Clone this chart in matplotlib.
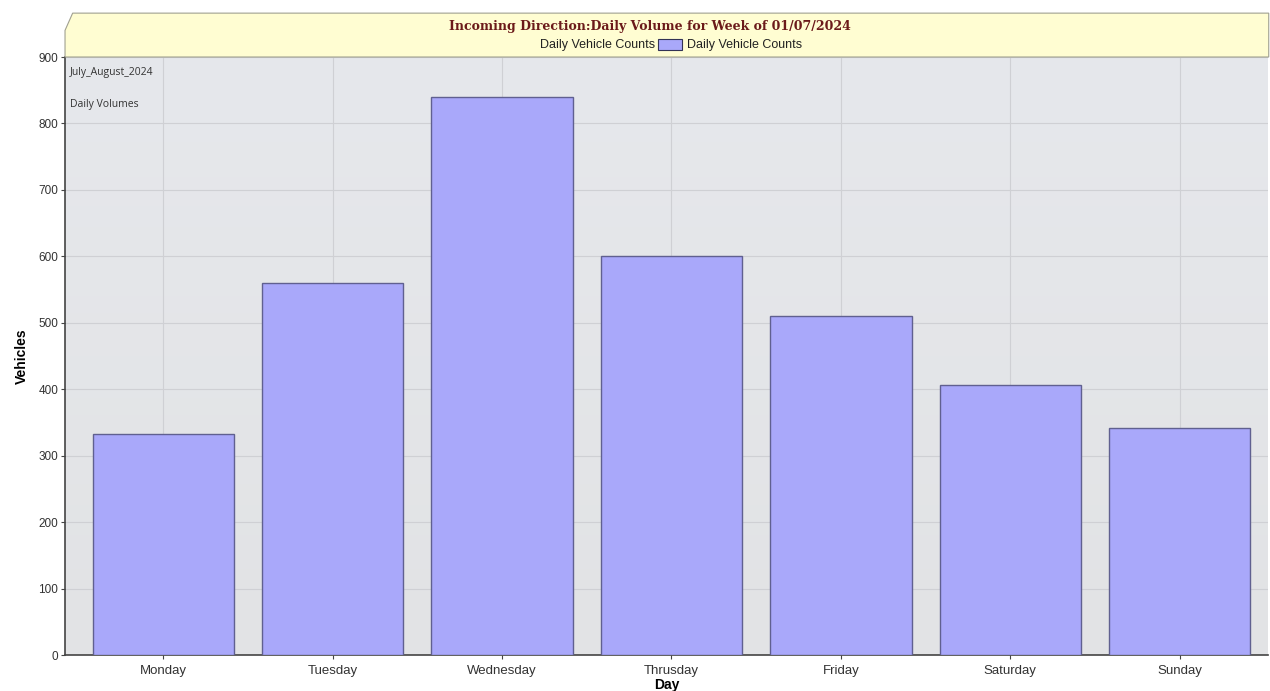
import numpy as np
import matplotlib
matplotlib.use('Agg')
import matplotlib.pyplot as plt
from matplotlib.patches import Polygon, Rectangle

days = ['Monday', 'Tuesday', 'Wednesday', 'Thrusday', 'Friday', 'Saturday', 'Sunday']
counts = [333, 560, 840, 600, 511, 406, 342]
yticks = [0, 100, 200, 300, 400, 500, 600, 700, 800, 900]

title = 'Incoming Direction:Daily Volume for Week of 01/07/2024'
series_name = 'Daily Vehicle Counts'

plt.rcParams['font.family'] = ['Liberation Sans', 'DejaVu Sans']

fig = plt.figure(figsize=(12.7, 6.91), dpi=100)
ax = fig.add_axes([0.0512, 0.052, 0.947, 0.8655])

# gradient background
grad = np.linspace(0, 1, 256).reshape(-1, 1)
ax.imshow(grad, extent=[-0.58, 6.52, 0, 900], aspect='auto', origin='lower',
          cmap=matplotlib.colors.LinearSegmentedColormap.from_list('bg', ['#e2e3e5', '#e6e8ec']),
          zorder=0)

x = np.arange(len(days))
ax.bar(x, counts, width=0.835, color='#a9a8fa', edgecolor='#606090', linewidth=1.0, zorder=3)

ax.set_xlim(-0.58, 6.52)
ax.set_ylim(0, 900)
ax.set_xticks(x)
ax.set_xticklabels(days, fontsize=9.5, color='#333333')
ax.set_yticks(yticks)
ax.set_yticklabels([str(v) for v in yticks], fontsize=8.5, color='#333333')
ax.grid(True, color='#cfd0d4', linewidth=0.8, zorder=1)
ax.set_axisbelow(True)
for s in ['top', 'right']:
    ax.spines[s].set_visible(False)
ax.spines['left'].set_color('#444444')
ax.spines['bottom'].set_color('#444444')
ax.spines['left'].set_linewidth(1.2)
ax.spines['bottom'].set_linewidth(1.2)
ax.tick_params(axis='both', length=3, color='#444444', pad=2)
ax.tick_params(axis='x', pad=4)

ax.set_xlabel('Day', fontsize=10, fontweight='bold')
ax.xaxis.set_label_coords(0.5, -0.039)
ax.set_ylabel('Vehicles', fontsize=10, fontweight='bold', labelpad=7)

ax.text(0.004, 0.984, 'July_August_2024', transform=ax.transAxes, fontsize=7.5, color='#333333',
        va='top', ha='left', family=['Open Sans', 'DejaVu Sans'])
ax.text(0.004, 0.929, 'Daily Volumes', transform=ax.transAxes, fontsize=7.5, color='#333333',
        va='top', ha='left', family=['Open Sans', 'DejaVu Sans'])

# title box
x0, x1 = 0.0512, 0.999
y0, y1 = 0.9175, 0.981
box = Polygon([[x0, y0], [x0, y1 - 0.025], [x0 + 0.006, y1], [x1, y1], [x1, y0]],
              closed=True, transform=fig.transFigure, facecolor='#fffdd2',
              edgecolor='#a0a090', linewidth=0.8)
fig.patches.append(box)
fig.text(0.5115, 0.961, title, fontsize=9, fontweight='bold', color='#6b1a1a',
         ha='center', va='center', family=['DejaVu Serif'])
fig.text(0.516, 0.935, series_name, fontsize=9, color='#222222', ha='right', va='center')
fig.patches.append(Rectangle((0.518, 0.927), 0.019, 0.016, transform=fig.transFigure,
                             facecolor='#a9a8fa', edgecolor='#333355', linewidth=0.8))
fig.text(0.541, 0.935, series_name, fontsize=9, color='#222222', ha='left', va='center')

fig.savefig('out.png', dpi=100)
